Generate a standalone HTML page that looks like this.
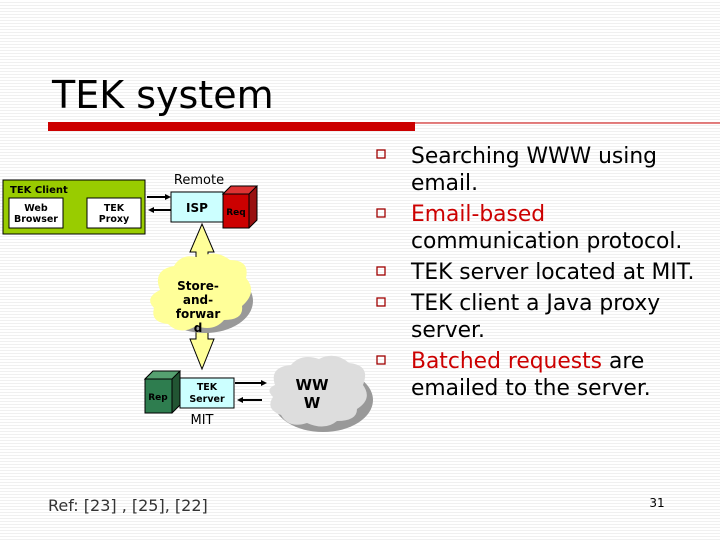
<!DOCTYPE html>
<html><head><meta charset="utf-8"><style>
body{margin:0;width:720px;height:540px;overflow:hidden;background:#fff;font-family:"Liberation Sans",sans-serif}
</style></head><body>
<svg width="720" height="540" viewBox="0 0 720 540" xmlns="http://www.w3.org/2000/svg">
<defs><pattern id="st" width="4" height="3" patternUnits="userSpaceOnUse"><rect width="4" height="3" fill="#fff"/><rect y="2" width="4" height="1" fill="#f0f0f0"/></pattern></defs>
<rect width="720" height="540" fill="url(#st)"/>
<text x="52" y="108" font-size="38" font-family="DejaVu Sans, Liberation Sans, sans-serif" fill="#000">TEK system</text>
<rect x="48" y="122" width="367" height="9" fill="#cc0000"/>
<line x1="415" y1="123" x2="720" y2="123" stroke="#cc0000" stroke-width="1"/>
<g fill="none" stroke="#a00000" stroke-width="1.3">
<rect x="377" y="150" width="8" height="8"/><rect x="377" y="209" width="8" height="8"/><rect x="377" y="267" width="8" height="8"/><rect x="377" y="298" width="8" height="8"/><rect x="377" y="356" width="8" height="8"/>
</g>
<g font-size="21.8" font-family="DejaVu Sans, Liberation Sans, sans-serif" fill="#000">
<text x="411" y="163">Searching WWW using</text>
<text x="411" y="190">email.</text>
<text x="411" y="221" fill="#cc0000">Email-based</text>
<text x="411" y="248">communication protocol.</text>
<text x="411" y="279">TEK server located at MIT.</text>
<text x="411" y="310">TEK client a Java proxy</text>
<text x="411" y="337">server.</text>
<text x="411" y="368"><tspan fill="#cc0000">Batched requests</tspan> are</text>
<text x="411" y="395">emailed to the server.</text>
</g>
<rect x="3" y="180" width="142" height="54" fill="#99cc00" stroke="#000"/>
<text x="10" y="193" font-size="10" font-weight="bold" font-family="DejaVu Sans, sans-serif">TEK Client</text>
<rect x="9" y="198" width="54" height="30" fill="#fff" stroke="#000"/>
<rect x="87" y="198" width="54" height="30" fill="#fff" stroke="#000"/>
<g font-size="9.5" font-weight="bold" font-family="DejaVu Sans, sans-serif" text-anchor="middle">
<text x="36" y="211">Web</text><text x="36" y="222">Browser</text>
<text x="114" y="211">TEK</text><text x="114" y="222">Proxy</text>
</g>
<text x="199" y="184" font-size="13" font-family="DejaVu Sans, sans-serif" text-anchor="middle">Remote</text>
<line x1="147" y1="197" x2="168" y2="197" stroke="#000" stroke-width="2"/><path d="M171 197 l-6 -3 v6z"/>
<line x1="152" y1="210" x2="171" y2="210" stroke="#000" stroke-width="2"/><path d="M148 210 l6 -3 v6z"/>
<rect x="171" y="192" width="52" height="30" fill="#ccffff" stroke="#000"/>
<text x="197" y="212" font-size="12" font-weight="bold" font-family="DejaVu Sans, sans-serif" text-anchor="middle">ISP</text>
<path d="M223 194 l8 -8 h26 v34 l-8 8z" fill="#991111" stroke="#000"/>
<rect x="223" y="194" width="26" height="34" fill="#cc0000" stroke="#000"/>
<path d="M223 194 l8 -8 h26 l-8 8z" fill="#dd3333" stroke="#000"/>
<text x="236" y="215" font-size="9" font-weight="bold" font-family="DejaVu Sans, sans-serif" text-anchor="middle">Req</text>
<path d="M202 224 l12 28 h-6 v16 h-12 v-16 h-6z" fill="#ffff99" stroke="#000"/>
<path d="M196 325 h12 v14 h6 l-12 30 l-12 -30 h6z" fill="#ffff99" stroke="#000"/>
<g transform="translate(5,5)" fill="#999"><ellipse cx="200" cy="296" rx="48" ry="32"/></g>
<path d="M160 290 q-8 -20 14 -24 q8 -14 26 -8 q14 -10 30 2 q20 0 16 18 q12 14 -4 28 q2 14 -18 14 q-10 12 -28 6 q-16 10 -28 -2 q-18 -2 -14 -16 q-10 -10 6 -18z" fill="#ffff99"/>
<g font-size="12" font-weight="bold" font-family="DejaVu Sans, sans-serif" text-anchor="middle" fill="#000">
<text x="198" y="290">Store-</text><text x="198" y="304">and-</text><text x="198" y="318">forwar</text><text x="198" y="332">d</text></g>
<path d="M145 379 l8 -8 h27 v34 l-8 8z" fill="#225533" stroke="#000"/>
<rect x="145" y="379" width="27" height="34" fill="#2e7d4f" stroke="#000"/>
<path d="M145 379 l8 -8 h27 l-8 8z" fill="#55a070" stroke="#000"/>
<text x="158" y="400" font-size="9" font-weight="bold" font-family="DejaVu Sans, sans-serif" text-anchor="middle">Rep</text>
<rect x="180" y="378" width="54" height="30" fill="#ccffff" stroke="#000"/>
<g font-size="9.5" font-weight="bold" font-family="DejaVu Sans, sans-serif" text-anchor="middle"><text x="207" y="390">TEK</text><text x="207" y="402">Server</text></g>
<text x="202" y="424" font-size="13" font-family="DejaVu Sans, sans-serif" text-anchor="middle">MIT</text>
<line x1="235" y1="383" x2="262" y2="383" stroke="#000" stroke-width="2"/><path d="M267 383 l-6 -3 v6z"/>
<line x1="242" y1="400" x2="262" y2="400" stroke="#000" stroke-width="2"/><path d="M237 400 l6 -3 v6z"/>
<ellipse cx="323" cy="400" rx="50" ry="32" fill="#999"/>
<path d="M275 385 q-6 -18 16 -20 q10 -12 28 -6 q16 -8 30 4 q22 2 14 22 q10 14 -6 24 q0 12 -20 12 q-12 10 -30 2 q-18 6 -26 -8 q-16 -6 -8 -18 q-8 -8 2 -12z" fill="#dddddd"/>
<g font-size="15" font-weight="bold" font-family="DejaVu Sans, sans-serif" text-anchor="middle"><text x="312" y="390">WW</text><text x="312" y="408">W</text></g>
<text x="48" y="511" font-size="16" font-family="DejaVu Sans, sans-serif" fill="#333">Ref: [23] , [25], [22]</text>
<text x="657" y="507" font-size="12" font-family="DejaVu Sans, sans-serif" text-anchor="middle">31</text>
</svg>
</body></html>
